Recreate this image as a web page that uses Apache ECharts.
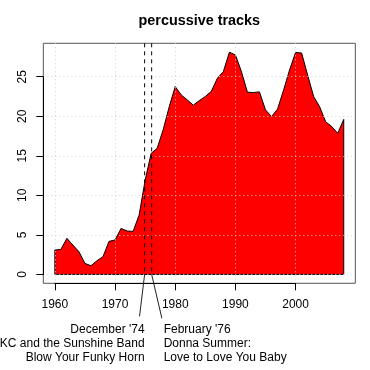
<!DOCTYPE html>
<html>
<head>
<meta charset="utf-8">
<script src="https://cdn.jsdelivr.net/npm/echarts@6/dist/echarts.min.js"></script>
<style>html,body{margin:0;padding:0;background:#fff}#c{width:370px;height:370px}</style>
</head>
<body>
<div id="c"></div>
<script>
const years = [1960,1961,1962,1963,1964,1965,1966,1967,1968,1969,
  1970,1971,1972,1973,1974,1975,1976,1977,1978,1979,
  1980,1981,1982,1983,1984,1985,1986,1987,1988,1989,
  1990,1991,1992,1993,1994,1995,1996,1997,1998,1999,
  2000,2001,2002,2003,2004,2005,2006,2007,2008];
const counts = [3.08,3.16,4.56,3.71,2.87,1.39,1.10,1.73,2.24,4.18,
  4.35,5.82,5.49,5.44,7.50,11.90,15.30,15.95,18.30,21.20,
  23.75,22.70,22.07,21.40,21.98,22.50,23.15,24.80,25.65,28.10,
  27.76,25.65,23.04,23.00,23.08,20.80,19.96,20.90,23.30,25.86,
  28.06,28.00,25.20,22.50,21.20,19.30,18.70,17.85,19.60];
const xTicks = [1960,1970,1980,1990,2000];
const yTicks = [0,5,10,15,20,25];
const eventDates = [1974.917, 1976.083];
const eventLabels = [
  "December '74\nKC and the Sunshine Band\nBlow Your Funky Horn",
  "February '76\nDonna Summer:\nLove to Love You Baby"
];
const titleText = "percussive tracks";

// layout
const FONT = "'Liberation Sans', Arial, Helvetica, sans-serif";
const PL = 43.3, PT = 43.3, PW = 312, PH = 240;
const xSpan = years[years.length-1] - years[0];
const xmin = years[0] - 0.04*xSpan, xmax = years[years.length-1] + 0.04*xSpan;
const yTop = Math.max(...counts);
const ymin = -0.04*yTop, ymax = yTop*1.04;
const px = v => PL + (v - xmin)/(xmax - xmin)*PW;
const py = v => PT + PH - (v - ymin)/(ymax - ymin)*PH;
// annotation leader ends (offsets in data units)
const leaderEnds = [[-0.85, -5.3], [1.7, -5.55]];

const areaData = [[years[0],0]].concat(years.map((y,i)=>[y,counts[i]])).concat([[years[years.length-1],0]]);

const gx0 = px(xTicks[0]), gx1 = px(xTicks[xTicks.length-1]);
const gy1 = py(yTicks[yTicks.length-1]), gy0 = py(yTicks[0]);

const gridStyle = {color:'#D3D3D3', width:1, type:[1,3]};

const series = [
  {type:'line', xAxisIndex:0, yAxisIndex:0, data:areaData, symbol:'none', z:2,
   lineStyle:{color:'#000', width:1}, areaStyle:{color:'#FF0000', opacity:1}, animation:false},
  {type:'line', xAxisIndex:0, yAxisIndex:0, data:[[years[0],0],[years[years.length-1],0]], symbol:'none', z:2,
   lineStyle:{color:'#000', width:1}, animation:false}
];
eventDates.forEach((e,i)=>{
  series.push({type:'line', xAxisIndex:0, yAxisIndex:0, data:[[e,ymax],[e,0]], symbol:'none', z:6,
    lineStyle:{color:'#000', width:1, type:[4,4]}, animation:false});
  series.push({type:'line', xAxisIndex:0, yAxisIndex:0, clip:false,
    data:[[e,0],[e+leaderEnds[i][0], leaderEnds[i][1]]], symbol:'none', z:6,
    lineStyle:{color:'#222', width:1}, animation:false});
});

const chart = echarts.init(document.getElementById('c'), null, {renderer:'canvas'});
chart.setOption({
  animation:false,
  backgroundColor:'#fff',
  grid:[
    {left:PL, top:PT, width:PW, height:PH, show:true, borderColor:'#555', borderWidth:1, backgroundColor:'transparent', containLabel:false, outerBoundsMode:'none'},
    {left:gx0, top:PT, width:gx1-gx0, height:PH, containLabel:false, outerBoundsMode:'none'},
    {left:PL, top:gy1, width:PW, height:gy0-gy1, containLabel:false, outerBoundsMode:'none'}
  ],
  xAxis:[
    {type:'value', gridIndex:0, min:xmin, max:xmax, show:false},
    {type:'value', gridIndex:1, min:xTicks[0], max:xTicks[xTicks.length-1], interval:xTicks[1]-xTicks[0], z:3,
     axisLine:{show:true, onZero:false, lineStyle:{color:'#000', width:1}},
     axisTick:{show:true, length:7, lineStyle:{color:'#000'}},
     axisLabel:{show:true, margin:15, fontSize:12, color:'#000', fontFamily:FONT, showMinLabel:true, showMaxLabel:true,
       formatter: v => String(v)},
     splitLine:{show:true, lineStyle:gridStyle}},
    {type:'value', gridIndex:2, show:false}
  ],
  yAxis:[
    {type:'value', gridIndex:0, min:ymin, max:ymax, show:false},
    {type:'value', gridIndex:1, show:false},
    {type:'value', gridIndex:2, min:yTicks[0], max:yTicks[yTicks.length-1], interval:yTicks[1]-yTicks[0], z:3,
     axisLine:{show:true, onZero:false, lineStyle:{color:'#000', width:1}},
     axisTick:{show:true, length:7, lineStyle:{color:'#000'}},
     axisLabel:{show:true, margin:15, rotate:90, fontSize:12, color:'#000', fontFamily:FONT, showMinLabel:true, showMaxLabel:true,
       formatter: v => String(v)},
     splitLine:{show:true, lineStyle:gridStyle}}
  ],
  graphic:[
    {type:'text', x:PL+PW/2, y:21.5, style:{text:titleText, font:'bold 14.4px '+FONT, fill:'#000', align:'center', verticalAlign:'middle'}},
    {type:'text', x:px(eventDates[0]), y:322.4, style:{text:eventLabels[0], font:'12px '+FONT, fill:'#000', align:'right', verticalAlign:'top', lineHeight:14.3}},
    {type:'text', x:px(eventDates[1])+12, y:322.4, style:{text:eventLabels[1], font:'12px '+FONT, fill:'#000', align:'left', verticalAlign:'top', lineHeight:14.3}}
  ],
  series:series
});
</script>
</body>
</html>
